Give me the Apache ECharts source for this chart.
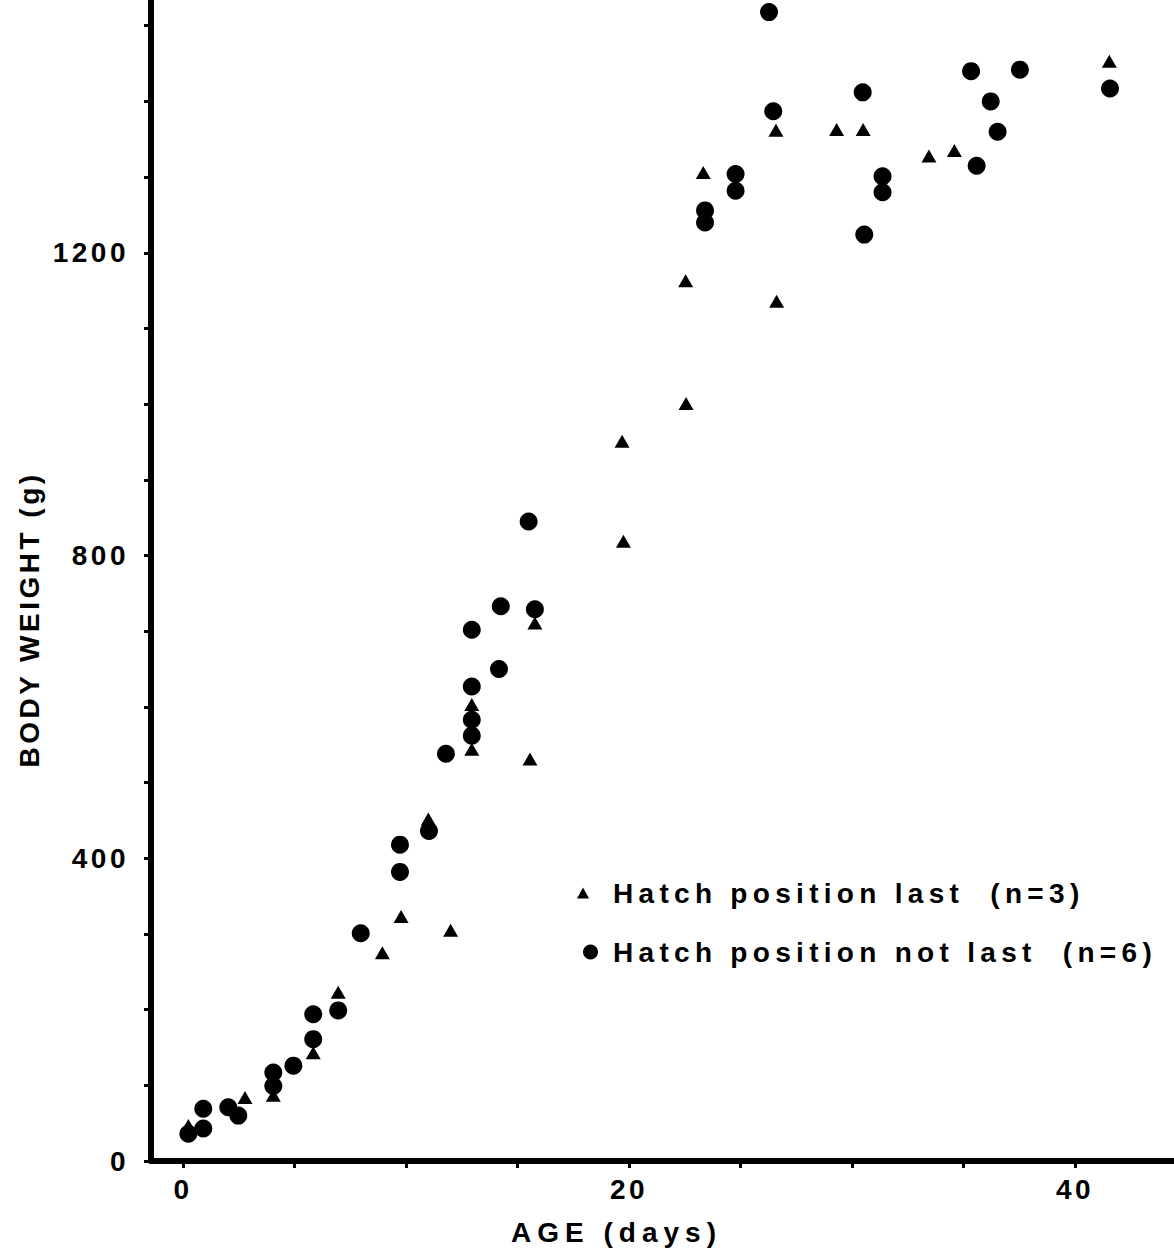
<!DOCTYPE html>
<html>
<head>
<meta charset="utf-8">
<script src="https://cdn.jsdelivr.net/npm/echarts@6/dist/echarts.min.js"></script>
<style>
  html, body { margin: 0; padding: 0; background: #fff; }
  #chart { width: 1174px; height: 1251px; }
  #chart text { letter-spacing: 4px; white-space: pre; }
</style>
</head>
<body>
<div id="chart"></div>
<script>
// Hatch position last (n=3): age (days), body weight (g)
var lastAge    = [0.24, 2.78, 4.05, 5.84, 6.96, 8.94, 9.78, 11.0, 12.0, 12.95, 12.95, 15.56, 15.78, 19.69, 19.75, 22.54, 22.56, 23.33, 26.59, 26.62, 29.31, 30.5, 33.45, 34.59, 41.54];
var lastWeight = [47, 84, 87, 143, 223, 275, 323, 452, 305, 603, 544, 531, 711, 951, 819, 1163, 1001, 1306, 1362, 1136, 1363, 1363, 1328, 1335, 1453];

// Hatch position not last (n=6)
var notLastAge    = [0.24, 0.91, 0.91, 2.03, 2.48, 4.05, 4.05, 4.95, 5.84, 5.84, 6.96, 7.97, 9.73, 9.73, 11.03, 11.79, 12.95, 12.95, 12.95, 12.95, 14.17, 14.25, 15.5, 15.78, 23.41, 23.41, 24.78, 24.78, 26.28, 26.47, 30.48, 30.55, 31.37, 31.37, 35.34, 35.59, 36.22, 36.53, 37.53, 41.57];
var notLastWeight = [36, 69, 43, 71, 60, 117, 99, 126, 194, 161, 199, 301, 418, 382, 436, 538, 702, 627, 583, 562, 650, 733, 845, 729, 1256, 1240, 1304, 1282, 1518, 1387, 1412, 1224, 1301, 1280, 1440, 1315, 1400, 1360, 1442, 1417];

var xTickValues  = [0, 5, 10, 15, 20, 25, 30, 35, 40];
var xLabelValues = [0, 20, 40];
var yTickValues  = [0, 100, 200, 300, 400, 500, 600, 700, 800, 900, 1000, 1100, 1200, 1300, 1400, 1500];
var yLabelValues = [0, 400, 800, 1200];

var nameLast = 'Hatch position last  (n=3)';
var nameNotLast = 'Hatch position not last  (n=6)';

function zip(a, b) { return a.map(function (v, i) { return [v, b[i]]; }); }

var FONT = 'Liberation Sans';
var WEIGHT = 'bold';
var chart = echarts.init(document.getElementById('chart'), null, { renderer: 'svg' });
chart.setOption({
  animation: false,
  backgroundColor: '#fff',
  textStyle: { fontFamily: FONT, color: '#000', fontWeight: WEIGHT },
  grid: { left: 151, right: 0, top: 0, bottom: 89, containLabel: false },
  xAxis: {
    type: 'value', min: -1.435, max: 44.44,
    name: 'AGE (days)', nameLocation: 'middle', nameGap: 57,
    nameTextStyle: { fontFamily: FONT, fontWeight: WEIGHT, fontSize: 28, color: '#000', padding: [0, 92, 0, 0] },
    axisLine: { show: true, onZero: false, lineStyle: { color: '#000', width: 6, opacity: 1 } },
    axisTick: { show: true, inside: false, length: 7, customValues: xTickValues, lineStyle: { color: '#000', width: 3 } },
    axisLabel: { show: true, customValues: xLabelValues, margin: 14, fontFamily: FONT, fontWeight: WEIGHT, fontSize: 28, color: '#000',
      formatter: function (v) { return String(v); } },
    splitLine: { show: false }
  },
  yAxis: {
    type: 'value', min: 0, max: 1534,
    name: 'BODY WEIGHT (g)', nameLocation: 'middle', nameGap: 108, nameRotate: 90,
    nameTextStyle: { fontFamily: FONT, fontWeight: WEIGHT, fontSize: 28, color: '#000', padding: [0, 78, 0, 0] },
    axisLine: { show: true, onZero: false, lineStyle: { color: '#000', width: 6, opacity: 1 } },
    axisTick: { show: true, inside: false, length: 7, customValues: yTickValues, lineStyle: { color: '#000', width: 3 } },
    axisLabel: { show: true, customValues: yLabelValues, margin: 22, fontFamily: FONT, fontWeight: WEIGHT, fontSize: 28, color: '#000',
      formatter: function (v) { return String(v); } },
    splitLine: { show: false }
  },
  legend: [
    {
      data: [nameLast], orient: 'vertical', left: 577, top: 879, padding: 0,
      itemWidth: 12, itemHeight: 11, selectedMode: false,
      itemStyle: { opacity: 1 },
      textStyle: { fontFamily: FONT, fontWeight: WEIGHT, fontSize: 28, color: '#000', padding: [0, 0, 0, 19] }
    },
    {
      data: [nameNotLast], orient: 'vertical', left: 583, top: 938, padding: 0,
      itemWidth: 15, itemHeight: 15, selectedMode: false,
      itemStyle: { opacity: 1 },
      textStyle: { fontFamily: FONT, fontWeight: WEIGHT, fontSize: 28, color: '#000', padding: [0, 0, 0, 10] }
    }
  ],
  series: [
    {
      name: nameNotLast, type: 'scatter', symbol: 'circle', symbolSize: 18,
      itemStyle: { color: '#000', opacity: 1 }, data: zip(notLastAge, notLastWeight), z: 3
    },
    {
      name: nameLast, type: 'scatter', symbol: 'triangle', symbolSize: [15, 13],
      itemStyle: { color: '#000', opacity: 1 }, data: zip(lastAge, lastWeight), z: 4
    }
  ]
});

function applySpacing() {
  var texts = document.querySelectorAll('#chart text');
  texts.forEach(function (t) {
    var s = t.textContent;
    if (s.indexOf('Hatch') === 0) t.style.letterSpacing = '5.3px';
    else if (s.indexOf('AGE') === 0) t.style.letterSpacing = '6px';
    else if (s.indexOf('BODY') === 0) t.style.letterSpacing = '3.5px';
    else t.style.letterSpacing = '3.5px';
  });
}
chart.on('finished', applySpacing);
applySpacing();
</script>
</body>
</html>
